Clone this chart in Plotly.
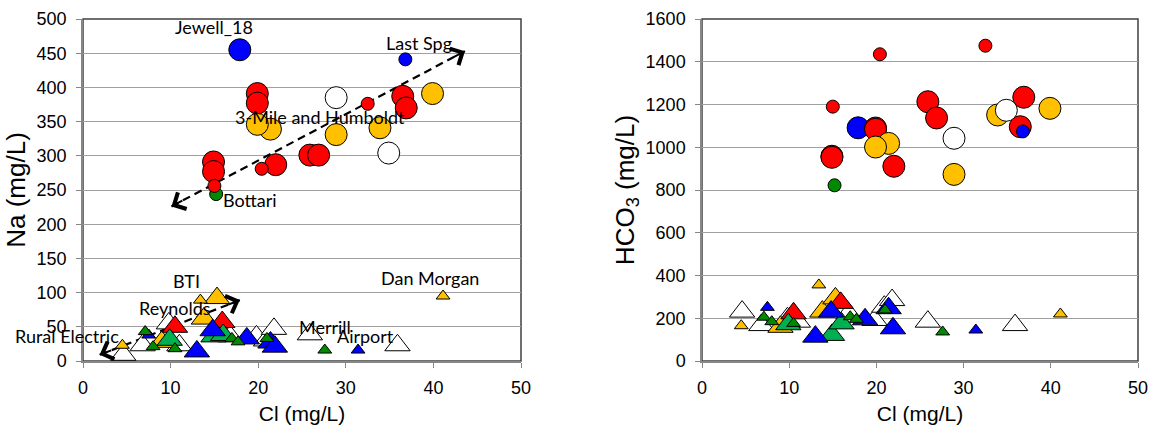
import math
import plotly.graph_objects as go

# ---------------- sample data: Cl, Na, HCO3 (mg/L) ----------------
# Circles: high-Na / high-HCO3 waters
green_small_circ_cl = [15.2]
green_small_circ_na = [244]
green_small_circ_hco3 = [822]

blue_big_circ_cl = [17.9]
blue_big_circ_na = [455]
blue_big_circ_hco3 = [1091]

red_big_circ_cl = [19.9, 19.9, 36.5, 36.9, 25.9, 26.9, 22.0, 14.9, 14.9]
red_big_circ_na = [391, 377, 387, 370, 301, 301, 287, 291, 277]
red_big_circ_hco3 = [1090, 1084, 1096, 1234, 1213, 1137, 911, 958, 953]

red_small_circ_cl = [32.5, 20.4, 15.0]
red_small_circ_na = [376, 281, 256]
red_small_circ_hco3 = [1475, 1435, 1190]

yellow_big_circ_cl = [21.4, 19.9, 28.9, 33.9, 39.9]
yellow_big_circ_na = [339, 346, 331, 341, 391]
yellow_big_circ_hco3 = [1018, 1001, 873, 1151, 1182]

white_big_circ_cl = [28.9, 34.9]
white_big_circ_na = [385, 304]
white_big_circ_hco3 = [1042, 1173]

blue_small_circ_cl = [36.8]
blue_small_circ_na = [441]
blue_small_circ_hco3 = [1074]

# Triangles: low-Na waters
white_big_tri_cl = [4.6, 6.8, 9.8, 11.0, 16.8, 19.8, 20.9, 21.8, 25.9, 35.9]
white_big_tri_na = [9, 23, 55, 23, 36, 36, 30, 47, 39, 23]
white_big_tri_hco3 = [231, 168, 200, 184, 223, 192, 254, 285, 184, 168]

yellow_small_tri_cl = [4.5, 13.4, 41.1]
yellow_small_tri_na = [23, 89, 95]
yellow_small_tri_hco3 = [165, 356, 220]

yellow_big_tri_cl = [9.0, 13.8, 15.3]
yellow_big_tri_na = [28, 62, 92]
yellow_big_tri_hco3 = [160, 231, 293]

red_big_tri_cl = [10.5, 15.9]
red_big_tri_na = [50, 57]
red_big_tri_hco3 = [223, 272]

mgreen_big_tri_cl = [9.9, 14.9, 16.0]
mgreen_big_tri_na = [31, 36, 38]
mgreen_big_tri_hco3 = [172, 122, 176]

blue_big_tri_cl = [13.0, 14.8, 18.7, 21.4, 21.9]
blue_big_tri_na = [14, 45, 33, 27, 21]
blue_big_tri_hco3 = [114, 231, 195, 247, 153]

blue_small_tri_cl = [7.5, 31.4]
blue_small_tri_na = [38, 16]
blue_small_tri_hco3 = [251, 145]

green_small_tri_cl = [7.1, 8.0, 10.5, 17.0, 17.7, 21.0, 27.6]
green_small_tri_na = [43, 21, 18, 33, 28, 33, 16]
green_small_tri_hco3 = [205, 184, 176, 207, 195, 239, 136]

# Site labels on the Na plot
site_names = ["Jewell_18", "Last Spg", "3-Mile and Humboldt", "Bottari", "BTI",
              "Dan Morgan", "Reynolds", "Rural Electric", "Merrill", "Airport"]
site_label_cl = [15.0, 38.3, 27.1, 19.1, 11.8, 39.6, 10.5, 4.3, 27.6, 32.2]
site_label_na = [489, 465, 356, 236, 117, 122, 78, 37, 49, 36]
site_label_anchor = ["center", "center", "center", "center", "center",
                     "center", "center", "right", "center", "center"]

# Trend arrows on the Na plot (tail Cl, tail Na, head Cl, head Na)
trend_upper = [(10.1, 226), (43.6, 453)]
trend_lower = [(1.9, 9), (17.9, 89)]

# ---------------- styling ----------------
W, H = 1151, 426
RED, BLUE, YELLOW, WHITE = "#FF0000", "#0000FF", "#FFC000", "#FFFFFF"
DGREEN, MGREEN = "#008A00", "#00B050"
CIRC_BIG, CIRC_SMALL = 22, 13
TRI_BIG, TRI_SMALL = 22, 12

series = [
    # (cl, na, hco3, color, symbol, size)
    (white_big_tri_cl, white_big_tri_na, white_big_tri_hco3, WHITE, "triangle-up", TRI_BIG),
    (yellow_big_tri_cl, yellow_big_tri_na, yellow_big_tri_hco3, YELLOW, "triangle-up", TRI_BIG),
    (yellow_small_tri_cl, yellow_small_tri_na, yellow_small_tri_hco3, YELLOW, "triangle-up", TRI_SMALL),
    (red_big_tri_cl, red_big_tri_na, red_big_tri_hco3, RED, "triangle-up", TRI_BIG),
    (mgreen_big_tri_cl, mgreen_big_tri_na, mgreen_big_tri_hco3, MGREEN, "triangle-up", TRI_BIG),
    (blue_big_tri_cl, blue_big_tri_na, blue_big_tri_hco3, BLUE, "triangle-up", TRI_BIG),
    (blue_small_tri_cl, blue_small_tri_na, blue_small_tri_hco3, BLUE, "triangle-up", TRI_SMALL),
    (green_small_tri_cl, green_small_tri_na, green_small_tri_hco3, DGREEN, "triangle-up", TRI_SMALL),
    (green_small_circ_cl, green_small_circ_na, green_small_circ_hco3, DGREEN, "circle", CIRC_SMALL),
    (blue_big_circ_cl, blue_big_circ_na, blue_big_circ_hco3, BLUE, "circle", CIRC_BIG),
    (red_big_circ_cl, red_big_circ_na, red_big_circ_hco3, RED, "circle", CIRC_BIG),
    (red_small_circ_cl, red_small_circ_na, red_small_circ_hco3, RED, "circle", CIRC_SMALL),
    (yellow_big_circ_cl, yellow_big_circ_na, yellow_big_circ_hco3, YELLOW, "circle", CIRC_BIG),
    (white_big_circ_cl, white_big_circ_na, white_big_circ_hco3, WHITE, "circle", CIRC_BIG),
    (blue_small_circ_cl, blue_small_circ_na, blue_small_circ_hco3, BLUE, "circle", CIRC_SMALL),
]

# plot-area placement (pixels)
PLOT_TOP, PLOT_BOTTOM = 19, 361
LEFT_X0, LEFT_X1 = 83, 521
RIGHT_X0, RIGHT_X1 = 702, 1138
X_RANGE = [0, 50]
NA_RANGE = [0, 500]
HCO3_RANGE = [0, 1600]

y_dom = [(H - PLOT_BOTTOM) / H, (H - PLOT_TOP) / H]
x_dom1 = [LEFT_X0 / W, LEFT_X1 / W]
x_dom2 = [RIGHT_X0 / W, RIGHT_X1 / W]

fig = go.Figure()

# dashed trend lines (drawn beneath the symbols)
for tail, head in (trend_upper, trend_lower):
    fig.add_trace(go.Scatter(
        x=[tail[0], head[0]], y=[tail[1], head[1]], mode="lines",
        line=dict(color="black", width=2.2, dash="8px,5px"),
        hoverinfo="skip", showlegend=False, xaxis="x", yaxis="y"))

for cl, na, hco3, color, symbol, size in series:
    marker = dict(color=color, symbol=symbol, size=size,
                  line=dict(color="black", width=1))
    fig.add_trace(go.Scatter(x=cl, y=na, mode="markers", marker=marker,
                             showlegend=False, xaxis="x", yaxis="y", cliponaxis=False))
    fig.add_trace(go.Scatter(x=cl, y=hco3, mode="markers", marker=marker,
                             showlegend=False, xaxis="x2", yaxis="y2", cliponaxis=False))

annotations = []
label_font = dict(family="Lato, Carlito, sans-serif", size=18, color="black")
for name, xc, yc, anc in zip(site_names, site_label_cl, site_label_na, site_label_anchor):
    annotations.append(dict(x=xc, y=yc, xref="x", yref="y", text=name,
                            showarrow=False, font=label_font,
                            xanchor=anc, yanchor="middle"))

# open arrowheads at both ends of each trend line
px_per_x = (LEFT_X1 - LEFT_X0) / (X_RANGE[1] - X_RANGE[0])
px_per_y = (PLOT_BOTTOM - PLOT_TOP) / (NA_RANGE[1] - NA_RANGE[0])
HEAD_STEM = 14  # px of solid stem behind each arrowhead
for tail, head in (trend_upper, trend_lower):
    length_px = math.hypot((head[0] - tail[0]) * px_per_x, (head[1] - tail[1]) * px_per_y)
    f = HEAD_STEM / length_px
    for tip, other in ((head, tail), (tail, head)):
        annotations.append(dict(
            x=tip[0], y=tip[1], ax=tip[0] + f * (other[0] - tip[0]),
            ay=tip[1] + f * (other[1] - tip[1]), xref="x", yref="y",
            axref="x", ayref="y", text="", showarrow=True, arrowhead=4,
            arrowsize=1.8, arrowwidth=2, arrowcolor="black", standoff=0))

tick_font = dict(family="Arial, Liberation Sans, sans-serif", size=18, color="black")
xtitle_font = dict(family="Arial, Liberation Sans, sans-serif", size=21, color="black")
ytitle_font = dict(family="Arial, Liberation Sans, sans-serif", size=26, color="black")
AXIS_GRAY = "#878787"
GRID_GRAY = "#A0A0A0"


def xaxis(dom, anchor):
    return dict(domain=dom, range=X_RANGE, dtick=10, tick0=0, anchor=anchor,
                ticks="outside", ticklen=5, tickcolor=AXIS_GRAY, tickwidth=1,
                showline=True, linecolor=AXIS_GRAY, linewidth=2,
                showgrid=False, zeroline=False, tickfont=tick_font,
                ticklabelstandoff=4, automargin=False,
                title=dict(text="Cl (mg/L)", font=xtitle_font, standoff=10))


def yaxis(rng, dt, title, anchor):
    return dict(domain=y_dom, range=rng, dtick=dt, tick0=0, anchor=anchor,
                ticks="outside", ticklen=5, tickcolor=AXIS_GRAY, tickwidth=1,
                showline=True, linecolor=AXIS_GRAY, linewidth=1.5,
                showgrid=True, gridcolor=GRID_GRAY, gridwidth=1.3,
                zeroline=False, tickfont=tick_font, ticklabelstandoff=6,
                automargin=False,
                title=dict(text=title, font=ytitle_font, standoff=4))


shapes = []
for xr, yr in (("x domain", "y domain"), ("x2 domain", "y2 domain")):
    shapes.append(dict(type="rect", xref=xr, yref=yr, x0=0, x1=1, y0=0, y1=1,
                       line=dict(color="#404040", width=1.5), layer="below"))

fig.update_layout(
    width=W, height=H, margin=dict(l=0, r=0, t=0, b=0, autoexpand=False),
    paper_bgcolor="white", plot_bgcolor="white",
    xaxis=xaxis(x_dom1, "y"), xaxis2=xaxis(x_dom2, "y2"),
    yaxis=yaxis(NA_RANGE, 50, "Na (mg/L)", "x"),
    yaxis2=yaxis(HCO3_RANGE, 200, "HCO<sub>3</sub> (mg/L)", "x2"),
    annotations=annotations, shapes=shapes, showlegend=False,
)

fig.write_html("out.html")
